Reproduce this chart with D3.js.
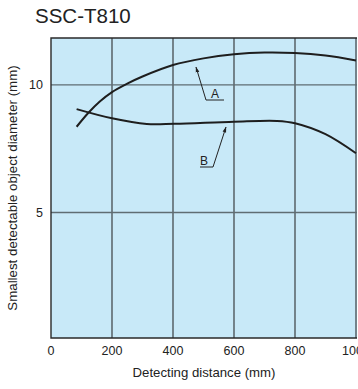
<!DOCTYPE html>
<html>
<head>
<meta charset="utf-8">
<script src="https://cdn.jsdelivr.net/npm/d3@7"></script>
<style>
  body { margin: 0; background: #fff; }
  text { font-family: "Liberation Sans", Arial, sans-serif; fill: #222; }
</style>
</head>
<body>
<svg width="358" height="389"></svg>
<script>
// values
var curveA = [[84, 8.36], [122, 8.9], [160, 9.35], [200, 9.72], [250, 10.05], [300, 10.33],
              [400, 10.78], [500, 11.04], [600, 11.2], [700, 11.27], [800, 11.25], [900, 11.15], [1000, 10.96]];
var curveB = [[84, 9.05], [200, 8.69], [314, 8.47], [406, 8.48], [600, 8.56], [741, 8.59],
              [800, 8.5], [900, 8.07], [1000, 7.32]];
var xTicks = [0, 200, 400, 600, 800, 1000];
var yTicks = [5, 10];

var svg = d3.select("svg");
var x = d3.scaleLinear().domain([0, 1000]).range([51, 356]);
var y = d3.scaleLinear().domain([0, 11.8]).range([340, 39]);
var pL = 51, pR = 357, pT = 38, pB = 338;

svg.append("rect")
  .attr("x", pL).attr("y", pT)
  .attr("width", pR - pL).attr("height", pB - pT)
  .attr("fill", "#c8e9f8");

// grid
svg.selectAll(".vg").data(xTicks.slice(1)).enter().append("line")
  .attr("x1", d => x(d)).attr("x2", d => x(d))
  .attr("y1", pT).attr("y2", pB)
  .attr("stroke", "#3a3f42").attr("stroke-width", 1.2);
svg.selectAll(".hg").data(yTicks).enter().append("line")
  .attr("x1", pL).attr("x2", pR)
  .attr("y1", d => y(d)).attr("y2", d => y(d))
  .attr("stroke", "#5f6d73").attr("stroke-width", 1.4);

// frame
svg.append("path")
  .attr("d", "M" + pR + "," + pT + "H" + pL + "V" + pB + "H" + pR)
  .attr("fill", "none").attr("stroke", "#2a2a2a").attr("stroke-width", 1.4);

// axis labels
svg.selectAll(".xl").data(xTicks).enter().append("text")
  .attr("x", d => x(d)).attr("y", 355)
  .attr("text-anchor", "middle").attr("font-size", 12.5)
  .text(d => d);
svg.selectAll(".yl").data(yTicks).enter().append("text")
  .attr("x", 43).attr("y", d => y(d) + 4.5)
  .attr("text-anchor", "end").attr("font-size", 12.5)
  .text(d => d);

svg.append("text").attr("x", 204).attr("y", 377)
  .attr("text-anchor", "middle").attr("font-size", 13.2)
  .text("Detecting distance (mm)");
svg.append("text")
  .attr("transform", "translate(17,188) rotate(-90)")
  .attr("text-anchor", "middle").attr("font-size", 13.3)
  .text("Smallest detectable object diameter (mm)");
svg.append("text").attr("x", 35).attr("y", 23)
  .attr("font-size", 20.5).attr("fill", "#333").text("SSC-T810");

// curves
var line = d3.line().x(d => x(d[0])).y(d => y(d[1])).curve(d3.curveCatmullRom.alpha(0.5));
svg.append("clipPath").attr("id", "c").append("rect")
  .attr("x", pL).attr("y", pT).attr("width", pR - pL).attr("height", pB - pT);
[curveA, curveB].forEach(function(c) {
  svg.append("path").datum(c).attr("d", line)
    .attr("clip-path", "url(#c)")
    .attr("fill", "none").attr("stroke", "#1e1e1e").attr("stroke-width", 2);
});

// callouts
svg.append("defs").append("marker").attr("id", "ar")
  .attr("viewBox", "0 0 10 10").attr("refX", 9).attr("refY", 5)
  .attr("markerWidth", 6).attr("markerHeight", 6).attr("orient", "auto")
  .append("path").attr("d", "M0,2L10,5L0,8z").attr("fill", "#222");

svg.append("path").attr("d", "M224,100H206L196,67")
  .attr("fill", "none").attr("stroke", "#222").attr("stroke-width", 1)
  .attr("marker-end", "url(#ar)");
svg.append("text").attr("x", 215).attr("y", 98).attr("text-anchor", "middle")
  .attr("font-size", 12).text("A");

svg.append("path").attr("d", "M200,167H213L226,127")
  .attr("fill", "none").attr("stroke", "#222").attr("stroke-width", 1)
  .attr("marker-end", "url(#ar)");
svg.append("text").attr("x", 204).attr("y", 165).attr("text-anchor", "middle")
  .attr("font-size", 12).text("B");
</script>
</body>
</html>
